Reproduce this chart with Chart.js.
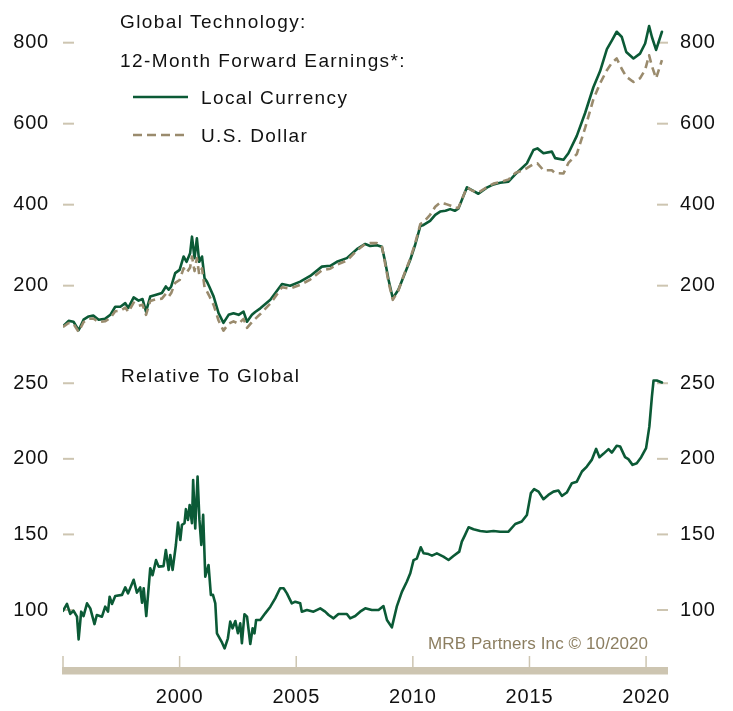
<!DOCTYPE html>
<html>
<head>
<meta charset="utf-8">
<script src="https://cdn.jsdelivr.net/npm/chart.js@4.4.0/dist/chart.umd.min.js"></script>
<style>
  body { margin: 0; background: #fff; width: 733px; height: 711px; overflow: hidden; position: relative; }
  canvas { position: absolute; left: 0; }
  #topChart { top: 0; }
  #bottomChart { top: 345px; }
</style>
</head>
<body>
<canvas id="topChart" width="733" height="345"></canvas>
<canvas id="bottomChart" width="733" height="366"></canvas>
<script>
// ---- data ----
const topDates = [1995.00,1995.24,1995.45,1995.67,1995.88,1996.10,1996.30,1996.53,1996.80,1997.03,1997.24,1997.46,1997.67,1997.80,
  1998.03,1998.24,1998.41,1998.56,1998.74,1998.96,1999.24,1999.41,1999.53,1999.64,1999.81,2000.00,2000.17,2000.30,2000.45,2000.53,
  2000.64,2000.74,2000.84,2000.96,2001.07,2001.17,2001.27,2001.46,2001.67,2001.88,2002.10,2002.31,2002.53,2002.74,2002.89,2003.10,
  2003.24,2003.46,2003.89,2004.39,2004.74,2005.17,2005.60,2006.10,2006.46,2006.74,2007.17,2007.60,2007.96,2008.17,2008.46,2008.67,
  2008.81,2008.96,2009.14,2009.38,2009.60,2009.89,2010.10,2010.32,2010.46,2010.74,2010.96,2011.17,2011.40,2011.60,2011.80,2011.95,
  2012.32,2012.53,2012.81,2013.17,2013.46,2013.74,2014.10,2014.39,2014.67,2014.89,2015.17,2015.34,2015.60,2015.96,2016.10,2016.46,
  2016.67,2017.03,2017.39,2017.74,2018.03,2018.32,2018.53,2018.74,2018.96,2019.15,2019.46,2019.74,2019.96,2020.13,2020.25,2020.43,2020.68];
const localCurrency = [100,113,111,90,116,124,126,116,118,128,148,148,157,145,
  171,163,167,136,173,177,182,198,190,198,231,239,272,259,280,321,
  268,317,259,272,218,210,198,173,132,108,128,132,128,136,111,128,
  135,144,165,204,200,210,224,247,249,259,268,290,303,298,300,296,
  260,214,169,190,222,264,301,347,350,360,375,383,385,389,385,390,
  443,436,427,442,450,454,457,475,490,502,535,539,527,531,515,511,
  527,570,627,690,730,784,805,827,814,777,761,773,798,841,814,782,827];
const usDollar = [98,108,106,86,110,118,119,110,112,120,137,138,146,135,
  158,150,153,128,162,166,168,180,173,182,207,214,243,232,245,272,
  236,268,228,243,195,186,175,152,114,89,106,112,106,118,96,110,
  118,130,156,196,193,202,215,238,242,252,262,287,303,305,305,298,
  255,208,165,188,224,267,305,352,357,375,395,405,402,398,392,392,
  443,435,430,443,452,456,462,478,484,490,500,502,485,485,478,477,
  503,525,590,660,700,732,750,761,735,716,703,712,733,769,742,712,757];

const relDates = [1995.00,1995.17,1995.31,1995.45,1995.60,1995.67,1995.78,1995.88,1996.03,1996.17,1996.35,1996.45,1996.67,1996.81,
  1996.93,1997.00,1997.10,1997.24,1997.53,1997.67,1997.79,1998.03,1998.17,1998.31,1998.39,1998.46,1998.57,1998.74,1998.84,1998.99,
  1999.10,1999.31,1999.41,1999.53,1999.60,1999.70,1999.84,1999.93,2000.03,2000.10,2000.21,2000.27,2000.36,2000.43,2000.53,2000.58,
  2000.67,2000.77,2000.85,2000.93,2001.01,2001.10,2001.24,2001.34,2001.43,2001.53,2001.60,2001.82,2001.93,2002.07,2002.17,2002.27,
  2002.39,2002.50,2002.60,2002.67,2002.78,2002.89,2003.03,2003.13,2003.21,2003.28,2003.46,2003.67,2003.89,2004.10,2004.31,2004.46,
  2004.60,2004.81,2004.96,2005.17,2005.24,2005.46,2005.74,2006.03,2006.24,2006.39,2006.60,2006.81,2007.17,2007.31,2007.53,2007.74,
  2007.96,2008.24,2008.53,2008.74,2008.89,2009.10,2009.31,2009.53,2009.74,2009.89,2010.03,2010.17,2010.34,2010.46,2010.67,2010.82,
  2011.03,2011.31,2011.53,2011.74,2011.99,2012.10,2012.24,2012.39,2012.60,2012.89,2013.17,2013.46,2013.74,2014.10,2014.39,2014.67,
  2014.89,2015.06,2015.20,2015.39,2015.60,2015.81,2016.03,2016.24,2016.39,2016.60,2016.82,2017.03,2017.25,2017.46,2017.67,2017.86,
  2018.00,2018.17,2018.39,2018.53,2018.74,2018.89,2019.10,2019.24,2019.42,2019.60,2019.79,2020.00,2020.14,2020.25,2020.32,2020.46,2020.68];
const relative = [99.5,104,97.4,99.5,95.6,80.6,98.9,96,104.4,101.1,90.7,96.7,95.6,102.2,
  98.9,108.8,104,109.3,110,115,111,120,111.5,115,104.8,114.4,96,127.6,123,133,
  128.7,129,139.7,126.5,136.4,126.5,143,157.8,146.3,156.3,157.4,166.7,159.6,169.5,157.4,186,
  154,188.2,159.6,143,162.9,122,129.8,110,110,104.4,84.6,78.4,74.6,81.3,92.3,87.9,
  92.7,84.6,91.2,78,97.2,95.6,77.5,87.9,84.6,93.4,93.4,97.8,102.2,107.7,114.4,114.4,
  111,104.4,105.5,104.4,98.9,100,98.9,101.1,98.9,96.7,94.5,97.4,97.4,94.5,96,98.9,
  101.1,100,100,102.6,93.4,88.5,102.2,112,118.7,124.3,133,134,141.5,137.5,137,136,
  137.5,135.3,133.1,135.7,138.6,145.2,149.7,154.7,153.4,152.3,151.8,152.3,151.8,151.8,156.9,158.5,
  162.9,177.3,180,178.3,173.3,176.1,178.3,179,175.5,177.7,183.9,184.9,191.6,194.9,199.3,206.6,
  201.1,203.3,206.4,204.1,208.6,208.1,201.1,199.8,196,197.1,201.1,207.1,221.3,241.2,251.8,251.8,250.5];

const xTickYears = [1995, 2000, 2005, 2010, 2015, 2020];
const topTicks = [200, 400, 600, 800];
const bottomTicks = [100, 150, 200, 250];

// ---- styles ----
const FONT = "'Liberation Sans', Arial, sans-serif";
const GREEN = '#0b5a36';
const TAN = '#9a8b6d';
const AXIS = '#cdc5b1';

function yAxis(pos, min, max, ticks) {
  return {
    type: 'linear', position: pos, min: min, max: max,
    afterBuildTicks: s => { s.ticks = ticks.map(v => ({ value: v })); },
    afterFit: s => {
      s.width = pos === 'left' ? 63 : 65;
      s.paddingTop = 0; s.paddingBottom = 0;
    },
    grid: { display: false, drawTicks: false },
    border: { display: false },
    ticks: { font: { family: FONT, size: 20 }, color: '#111', padding: pos === 'left' ? 14 : 12 }
  };
}

function xAxis(show) {
  return {
    type: 'linear', min: 1995, max: 2020.94, display: show,
    afterBuildTicks: s => { s.ticks = xTickYears.map(v => ({ value: v })); },
    afterFit: s => {
      s.height = show ? 44 : 0;
      s.paddingLeft = 0; s.paddingRight = 0;
    },
    grid: { display: false, drawTicks: false },
    border: { display: false },
    ticks: { font: { family: FONT, size: 20 }, color: '#111', padding: 18, maxRotation: 0, autoSkip: false,
      callback: v => v === 1995 ? '' : String(v) }
  };
}

const decor = {
  id: 'decor',
  beforeDraw(chart) { chart.ctx.letterSpacing = '0.8px'; },
  beforeDatasetsDraw(chart, args, opts) {
    const ctx = chart.ctx, a = chart.chartArea;
    ctx.save();
    ctx.strokeStyle = AXIS;
    ctx.lineWidth = 2;
    ['yL', 'yR'].forEach(id => {
      const s = chart.scales[id];
      s.ticks.forEach(t => {
        const y = s.getPixelForValue(t.value);
        ctx.beginPath();
        if (id === 'yL') { ctx.moveTo(a.left, y); ctx.lineTo(a.left + 11, y); }
        else { ctx.moveTo(a.right - 11, y); ctx.lineTo(a.right, y); }
        ctx.stroke();
      });
    });
    if (opts.xBar) {
      const sx = chart.scales.x;
      ctx.fillStyle = AXIS;
      ctx.fillRect(a.left - 1, a.bottom, a.right - a.left + 1, 7.5);
      ctx.lineWidth = 1.5;
      sx.ticks.forEach(t => {
        const x = sx.getPixelForValue(t.value);
        ctx.beginPath();
        ctx.moveTo(x, a.bottom - 11);
        ctx.lineTo(x, a.bottom);
        ctx.stroke();
      });
    }
    ctx.restore();
  },
  afterDraw(chart, args, opts) {
    const ctx = chart.ctx;
    ctx.save();
    (opts.lines || []).forEach(l => {
      ctx.beginPath();
      ctx.strokeStyle = l.color;
      ctx.lineWidth = 2.6;
      ctx.setLineDash(l.dash || []);
      ctx.moveTo(l.x1, l.y); ctx.lineTo(l.x2, l.y);
      ctx.stroke();
    });
    ctx.setLineDash([]);
    (opts.texts || []).forEach(t => {
      ctx.font = (t.size || 19) + 'px ' + FONT;
      ctx.fillStyle = t.color || '#111';
      ctx.letterSpacing = (t.ls === undefined ? 1.4 : t.ls) + 'px';
      ctx.textAlign = 'left';
      ctx.textBaseline = 'alphabetic';
      ctx.fillText(t.text, t.x, t.y);
    });
    ctx.restore();
  }
};

const common = {
  responsive: false,
  animation: false,
  layout: { padding: 0 },
  elements: { point: { radius: 0 }, line: { tension: 0, borderJoinStyle: 'round', borderCapStyle: 'round' } },
  events: []
};

new Chart(document.getElementById('topChart'), {
  type: 'line',
  data: {
    datasets: [
      { label: 'U.S. Dollar', data: topDates.map((d, i) => ({ x: d, y: usDollar[i] })),
        borderColor: TAN, borderWidth: 2.6, borderDash: [8, 5], borderCapStyle: 'butt', yAxisID: 'yL' },
      { label: 'Local Currency', data: topDates.map((d, i) => ({ x: d, y: localCurrency[i] })),
        borderColor: GREEN, borderWidth: 2.6, yAxisID: 'yL' }
    ]
  },
  options: Object.assign({}, common, {
    scales: { x: xAxis(false), yL: yAxis('left', 53.5, 905.4, topTicks), yR: yAxis('right', 53.5, 905.4, topTicks) },
    plugins: {
      legend: { display: false }, tooltip: { enabled: false },
      decor: {
        lines: [
          { x1: 133, x2: 188, y: 97, color: GREEN },
          { x1: 133, x2: 188, y: 135, color: TAN, dash: [9, 5] }
        ],
        texts: [
          { text: 'Global Technology:', x: 120, y: 28 },
          { text: '12-Month Forward Earnings*:', x: 120, y: 66.5 },
          { text: 'Local Currency', x: 201, y: 104 },
          { text: 'U.S. Dollar', x: 201, y: 141.5 }
        ]
      }
    }
  }),
  plugins: [decor]
});

new Chart(document.getElementById('bottomChart'), {
  type: 'line',
  data: {
    datasets: [
      { label: 'Relative To Global', data: relDates.map((d, i) => ({ x: d, y: relative[i] })),
        borderColor: GREEN, borderWidth: 2.6, yAxisID: 'yL' }
    ]
  },
  options: Object.assign({}, common, {
    scales: { x: xAxis(true), yL: yAxis('left', 62.3, 275.3, bottomTicks), yR: yAxis('right', 62.3, 275.3, bottomTicks) },
    plugins: {
      legend: { display: false }, tooltip: { enabled: false },
      decor: {
        xBar: true,
        texts: [
          { text: 'Relative To Global', x: 121, y: 36.7 },
          { text: 'MRB Partners Inc \u00a9 10/2020', x: 428, y: 303.7, size: 17, color: '#8c7e60', ls: 0.1 }
        ]
      }
    }
  }),
  plugins: [decor]
});
</script>
</body>
</html>
